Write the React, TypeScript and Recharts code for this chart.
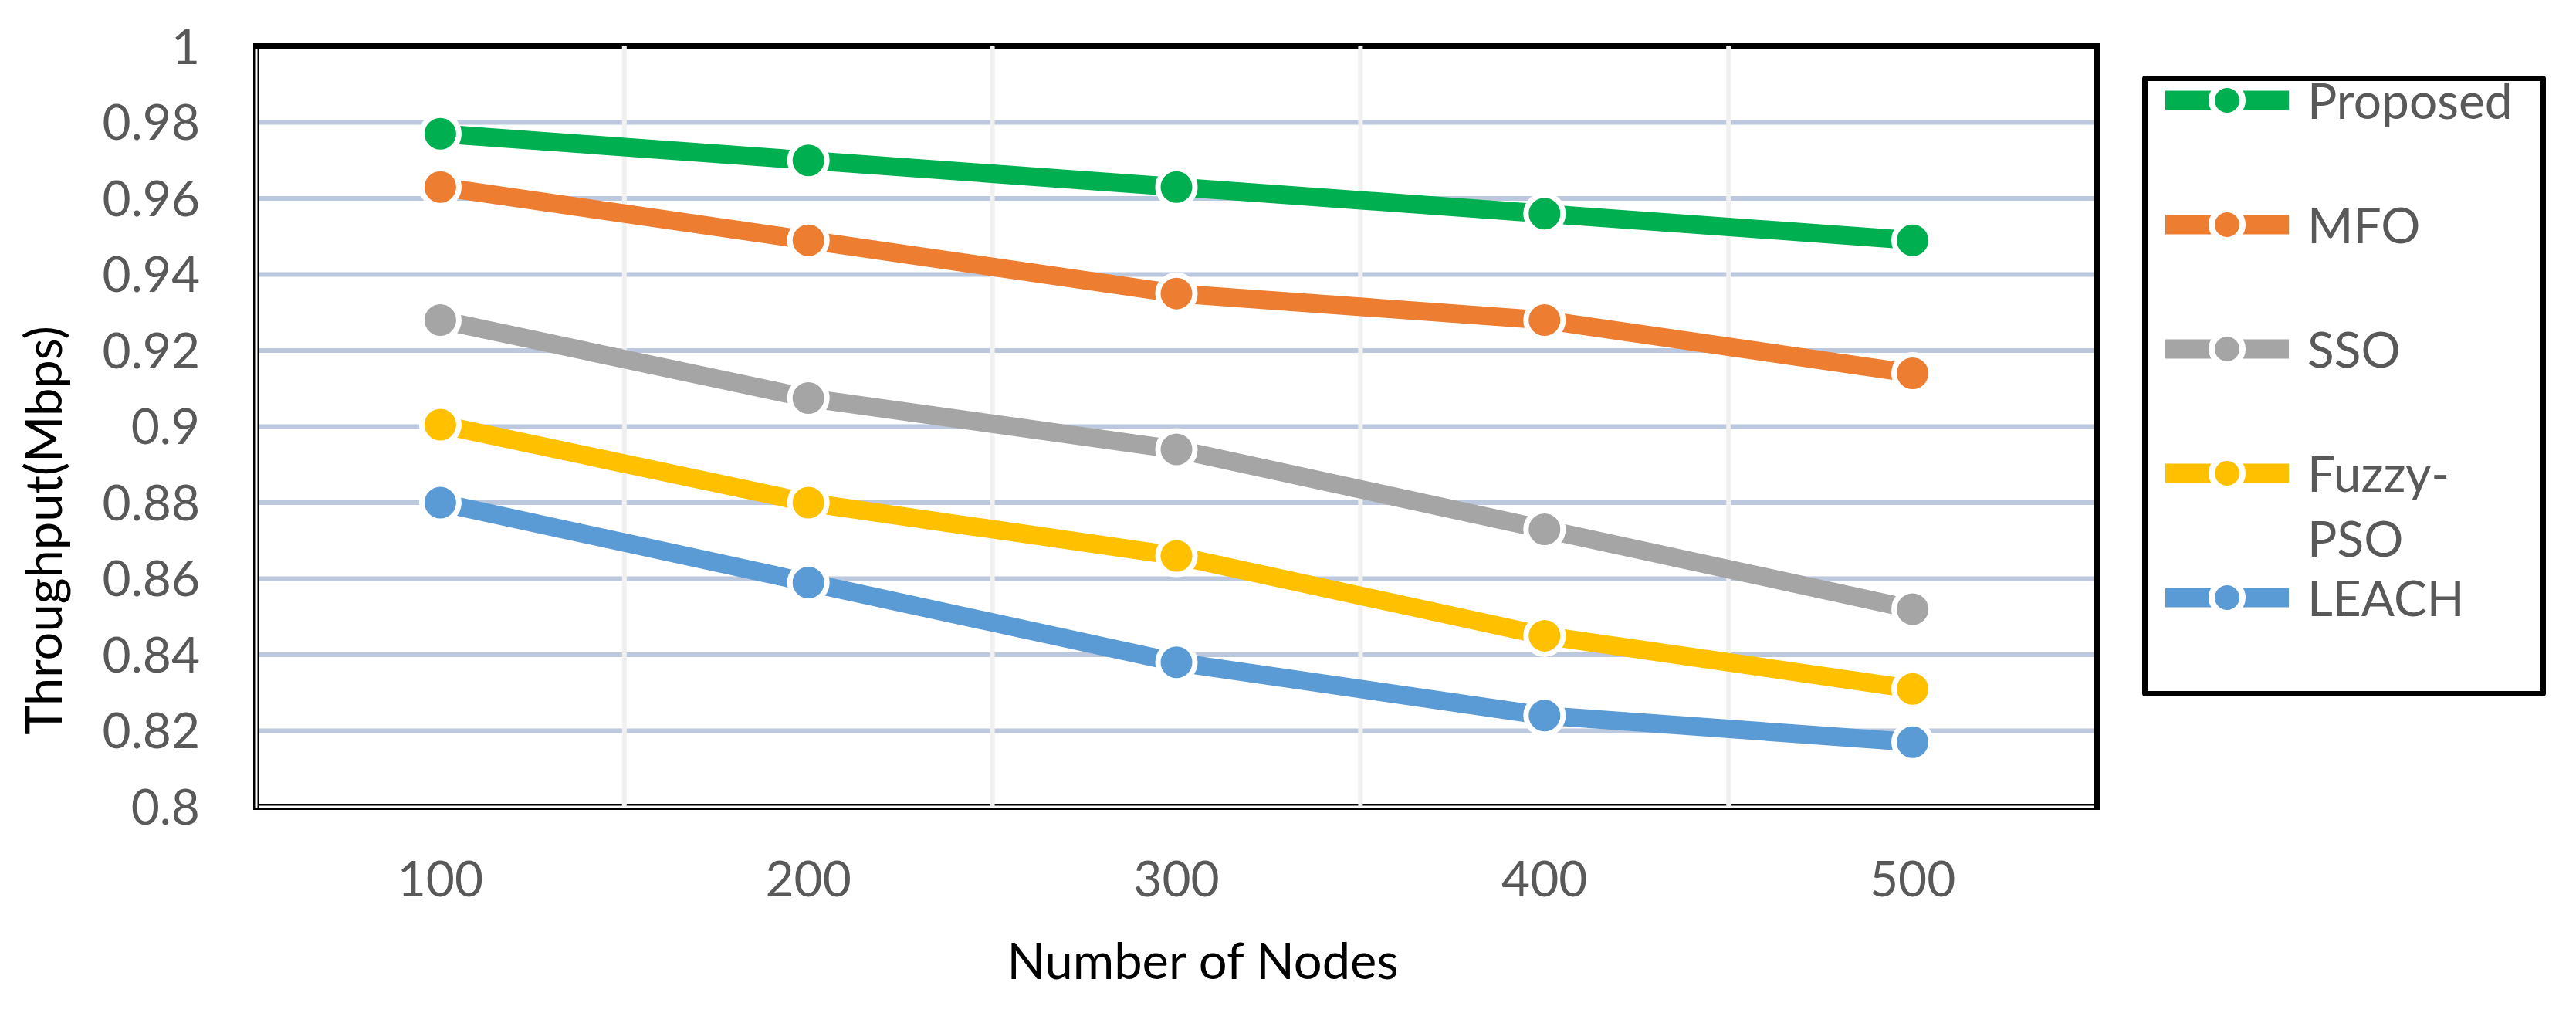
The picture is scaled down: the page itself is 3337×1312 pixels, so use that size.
import { LineChart, Line, XAxis, YAxis, CartesianGrid, Legend, ReferenceLine, ReferenceArea } from 'recharts'

const FONT = 'Lato, "Open Sans", sans-serif'

const nodes = [100, 200, 300, 400, 500]
const proposed = [0.977, 0.970, 0.963, 0.956, 0.949]
const mfo = [0.963, 0.949, 0.935, 0.928, 0.914]
const sso = [0.928, 0.9075, 0.894, 0.873, 0.852]
const fuzzyPso = [0.9005, 0.880, 0.866, 0.845, 0.831]
const leach = [0.880, 0.859, 0.838, 0.824, 0.817]

const yTicks = [0.8, 0.82, 0.84, 0.86, 0.88, 0.9, 0.92, 0.94, 0.96, 0.98, 1]
const categoryEdges = [150, 250, 350, 450]

const series = [
  { key: 'proposed', name: 'Proposed', color: '#00B050', values: proposed },
  { key: 'mfo', name: 'MFO', color: '#ED7D31', values: mfo },
  { key: 'sso', name: 'SSO', color: '#A5A5A5', values: sso },
  { key: 'fuzzy', name: 'Fuzzy-PSO', color: '#FFC000', values: fuzzyPso },
  { key: 'leach', name: 'LEACH', color: '#5B9BD5', values: leach },
]

const data = nodes.map((n, i) => {
  const row: Record<string, number> = { nodes: n }
  series.forEach((s) => { row[s.key] = s.values[i] })
  return row
})

// plot frame: thick top/right, double thin left/bottom
function Frame(props: any) {
  const { x, y, width, height } = props
  return (
    <g>
      <rect x={x - 4} y={y + height - 4} width={width + 8} height={8} fill="#000" />
      <rect x={x - 1} y={y + height - 1.5} width={width + 2} height={3} fill="#fff" />
      <rect x={x - 4} y={y} width={8} height={height + 4} fill="#000" />
      <rect x={x - 1.5} y={y} width={3} height={height + 1} fill="#fff" />
      <rect x={x - 4} y={y - 4} width={width + 8} height={8} fill="#000" />
      <rect x={x + width - 4} y={y - 4} width={8} height={height + 8} fill="#000" />
    </g>
  )
}

function YTitle(props: any) {
  const { viewBox } = props
  const bx = viewBox.x + 80
  const cy = 687
  return (
    <text x={bx} y={cy} transform={`rotate(-90 ${bx} ${cy})`} textAnchor="middle"
      fontFamily={FONT} fontSize={65} fill="#000">
      Throughput(Mbps)
    </text>
  )
}

function XTitle(props: any) {
  const { viewBox } = props
  return (
    <text x={viewBox.x + viewBox.width / 2 + 34} y={viewBox.y + 223} textAnchor="middle"
      fontFamily={FONT} fontSize={65} fill="#000">
      Number of Nodes
    </text>
  )
}

function renderLegend(props: any) {
  const { payload = [] } = props
  // keep the series order, not the library's alphabetical sort
  const items = series
    .map((s) => payload.find((p: any) => p.value === s.name))
    .filter(Boolean)
  return (
    <div style={{
      position: 'absolute', left: 2775, top: 98, width: 523, height: 804,
      border: '7px solid #000', borderRadius: 4, boxSizing: 'border-box', background: '#fff',
      fontFamily: FONT,
    }}>
      {items.map((p: any, i: number) => (
        <div key={p.value} style={{ position: 'absolute', left: 23, top: -21 + 161 * i, display: 'flex', alignItems: 'flex-start' }}>
          <svg width={160} height={92} style={{ display: 'block' }}>
            <line x1={0} y1={46} x2={160} y2={46} stroke={p.color} strokeWidth={25} />
            <circle cx={80} cy={46} r={20} fill={p.color} stroke="#fff" strokeWidth={8} />
          </svg>
          <div style={{ marginLeft: 24, fontSize: 64, color: '#595959', whiteSpace: 'nowrap' }}>
            {String(p.value).split(/(?<=-)/).map((part: string, j: number) => (
              <div key={part} style={{ lineHeight: j === 0 ? '92px' : '76px' }}>{part}</div>
            ))}
          </div>
        </div>
      ))}
    </div>
  )
}

export default function App() {
  return (
    <div style={{ position: 'absolute', left: 0, top: 0, width: 3337, height: 1312, background: '#fff', fontFamily: FONT }}>
      <LineChart width={3337} height={1312} data={data} margin={{ top: 60, right: 621, bottom: 0, left: 0 }}>
        <CartesianGrid horizontal vertical={false} stroke="#BCC8DE" strokeWidth={6} />
        {categoryEdges.map((e) => (
          <ReferenceLine key={e} x={e} stroke="#F0F0F0" strokeWidth={6} />
        ))}
        <XAxis dataKey="nodes" type="number" domain={[50, 550]} ticks={nodes} interval={0}
          axisLine={false} tickLine={false} tickSize={0} tickMargin={71} height={267}
          tick={{ fill: '#595959', fontSize: 64, fontFamily: FONT }}
          label={<XTitle />} />
        <YAxis type="number" domain={[0.8, 1]} ticks={yTicks} interval={0}
          axisLine={false} tickLine={false} tickSize={0} tickMargin={73} width={332}
          tickFormatter={(v: number) => String(+v.toFixed(2))}
          tick={{ fill: '#595959', fontSize: 64, fontFamily: FONT }}
          label={<YTitle />} />
        <Legend content={renderLegend} wrapperStyle={{ left: 0, top: 0, width: 0, height: 0 }} />
        {series.map((s) => (
          <Line key={s.key} dataKey={s.key} name={s.name} stroke={s.color} strokeWidth={24}
            strokeLinejoin="round" isAnimationActive={false} activeDot={false}
            dot={{ r: 24, fill: s.color, stroke: '#fff', strokeWidth: 7 }} />
        ))}
        <ReferenceArea x1={50} x2={550} y1={0.8} y2={1} shape={<Frame />} ifOverflow="visible" />
      </LineChart>
    </div>
  )
}
